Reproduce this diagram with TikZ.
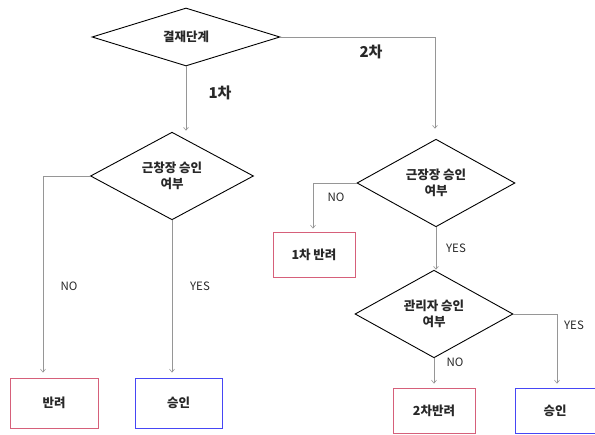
\documentclass[tikz,border=0pt]{standalone}
\usepackage{fontspec}
\setmainfont{Noto Sans CJK KR}
\usetikzlibrary{shapes.geometric,arrows.meta}
\definecolor{linegray}{RGB}{150,150,150}
\definecolor{rejred}{RGB}{214,96,122}
\definecolor{okblue}{RGB}{70,70,245}
\definecolor{txt}{RGB}{40,40,40}
\tikzset{
  dec/.style={diamond, draw=black, line width=0.9pt, inner sep=0pt, font=\fontsize{12.5}{15.5}\selectfont\bfseries, text=txt, align=center},
  rejbox/.style={rectangle, draw=rejred, line width=0.8pt, inner sep=0pt, font=\fontsize{12.5}{15}\selectfont\bfseries, text=txt},
  okbox/.style={rectangle, draw=okblue, line width=0.8pt, inner sep=0pt, font=\fontsize{12.5}{15}\selectfont\bfseries, text=txt},
  arr/.style={draw=linegray, line width=0.6pt, -{Straight Barb[length=3pt,width=5pt]}},
  lbl/.style={font=\fontsize{11.5}{13}\selectfont, text=txt},
  biglbl/.style={font=\fontsize{15}{17}\selectfont\bfseries, text=txt}
}
\begin{document}
\begin{tikzpicture}[x=1pt,y=-1pt]
\useasboundingbox (0,0) rectangle (595,435);
% decisions
\node[dec, minimum width=188pt, minimum height=58pt] (d1) at (186,37) {결재단계};
\node[dec, minimum width=163pt, minimum height=78pt] (d2) at (172,176) {근창장 승인\\여부};
\node[dec, minimum width=158pt, minimum height=71pt] (d3) at (436,183) {근장장 승인\\여부};
\node[dec, minimum width=158pt, minimum height=72pt] (d4) at (434,314) {관리자 승인\\여부};
% boxes
\node[rejbox, minimum width=88pt, minimum height=50pt] (r1) at (54,403) {반려};
\node[okbox, minimum width=87pt, minimum height=50pt] (a1) at (178.5,403) {승인};
\node[rejbox, minimum width=82pt, minimum height=45pt] (r2) at (314,254.5) {1차 반려};
\node[rejbox, minimum width=82pt, minimum height=45pt] (r3) at (434,410.5) {2차반려};
\node[okbox, minimum width=80pt, minimum height=45pt] (a2) at (555,410.5) {승인};
% bend points
\coordinate (k1) at (43,176);
\coordinate (k2) at (313,183);
\coordinate (k3) at (557,314);
\coordinate (k4) at (435,37);
% connectors
\draw[arr] (d1.south) -- ([yshift=1pt]d1.south |- d2.north);
\draw[arr, shorten >=10pt] (d1.east) -- (k4) -- (k4 |- d3.north);
\draw[arr, shorten >=5pt] (d2.west) -- (k1) -- (k1 |- r1.north);
\draw[arr, shorten >=5pt] (d2.south) -- (d2.south |- a1.north);
\draw[arr, shorten >=3pt] (d3.west) -- (k2) -- (k2 |- r2.north);
\draw[arr] (d3.south) -- (d3.south |- d4.north);
\draw[arr, shorten >=4pt] (d4.south) -- (d4.south |- r3.north);
\draw[arr, shorten >=4pt] (d4.east) -- (k3) -- (k3 |- a2.north);
% labels
\node[biglbl] (l1) at (220,93) {1차};
\node[biglbl] (l2) at (371,52) {2차};
\node[lbl] (l3) at (69,286) {NO};
\node[lbl] (l4) at (200,286) {YES};
\node[lbl] (l5) at (336,197) {NO};
\node[lbl] (l6) at (456,248) {YES};
\node[lbl] (l7) at (455,362) {NO};
\node[lbl] (l8) at (574,325) {YES};
\end{tikzpicture}
\end{document}
